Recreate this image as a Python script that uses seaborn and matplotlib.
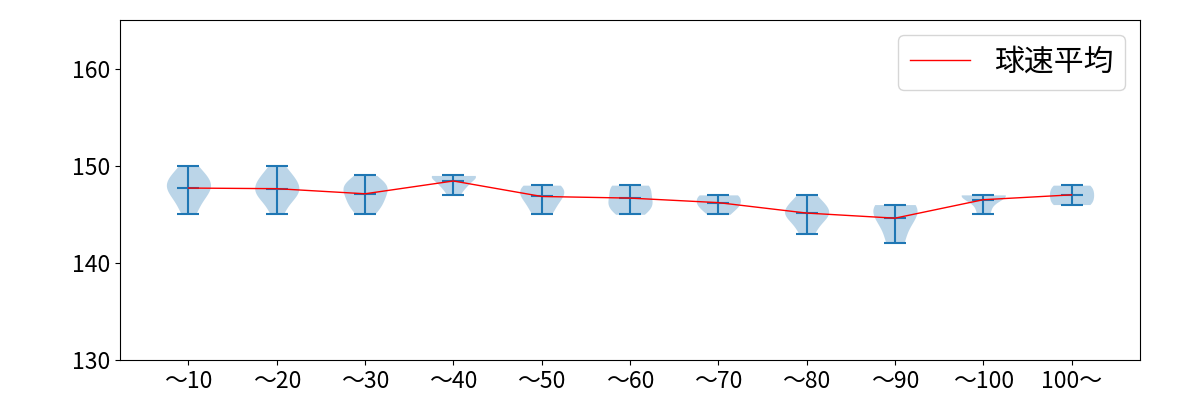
import matplotlib
matplotlib.use("Agg")
import matplotlib.pyplot as plt
import seaborn as sns
import pandas as pd
import numpy as np

plt.rcParams['font.family'] = ['Noto Sans CJK JP', 'DejaVu Sans']

# ==============================
# Data (pitch speed samples per pitch-count range)
# ==============================
ranges = ["〜10", "〜20", "〜30", "〜40", "〜50", "〜60",
          "〜70", "〜80", "〜90", "〜100", "100〜"]
speeds_10 = [145, 146, 147, 147, 148, 148, 148, 149, 149, 150]
speeds_20 = [145, 146, 147, 147, 147, 148, 148, 148, 149, 149, 150]
speeds_30 = [145, 146, 146, 147, 147, 148, 148, 148, 149]
speeds_40 = [147, 148, 148, 149, 149, 149, 149]
speeds_50 = [145, 146, 147, 147, 148, 148]
speeds_60 = [145, 146, 146, 147, 148, 148]
speeds_70 = [145, 146, 146, 147, 147]
speeds_80 = [143, 144, 145, 145, 145, 146, 146, 147]
speeds_90 = [142, 144, 145, 146, 146]
speeds_100 = [145, 146, 147, 147, 147, 147]
speeds_over = [146, 146, 147, 147, 148, 148]

groups = [speeds_10, speeds_20, speeds_30, speeds_40, speeds_50, speeds_60,
          speeds_70, speeds_80, speeds_90, speeds_100, speeds_over]

df = pd.DataFrame({
    "range": [r for r, g in zip(ranges, groups) for _ in g],
    "speed": [v for g in groups for v in g],
})
means = [np.mean(g) for g in groups]
mins = [min(g) for g in groups]
maxs = [max(g) for g in groups]
pos = np.arange(len(ranges))

# ==============================
# Plot
# ==============================
fig, ax = plt.subplots(figsize=(12, 4), dpi=100)
sns.violinplot(data=df, x="range", y="speed", order=ranges, cut=0, inner=None,
               density_norm="width", width=0.5, color="#1f77b4", saturation=1,
               linewidth=0, alpha=0.3, ax=ax)

# min / max / mean bars like matplotlib's violinplot
ax.vlines(pos, mins, maxs, color="#1f77b4", lw=1.5)
ax.hlines(mins, pos - 0.125, pos + 0.125, color="#1f77b4", lw=1.5)
ax.hlines(maxs, pos - 0.125, pos + 0.125, color="#1f77b4", lw=1.5)
ax.hlines(means, pos - 0.125, pos + 0.125, color="#1f77b4", lw=1.5)

sns.lineplot(x=pos, y=means, color="red", lw=1, label="球速平均", ax=ax)

ax.set_xlim(-0.775, 10.775)
ax.set_ylim(130, 165)
ax.set_yticks([130, 140, 150, 160])
ax.set_xticks(pos)
ax.set_xticklabels(ranges)
ax.set_xlabel("")
ax.set_ylabel("")
ax.tick_params(labelsize=16.5)
ax.legend(loc="upper right", fontsize=21.5)

plt.subplots_adjust(left=0.1, right=0.95, bottom=0.1, top=0.95)
plt.savefig("out.png")
plt.close()
